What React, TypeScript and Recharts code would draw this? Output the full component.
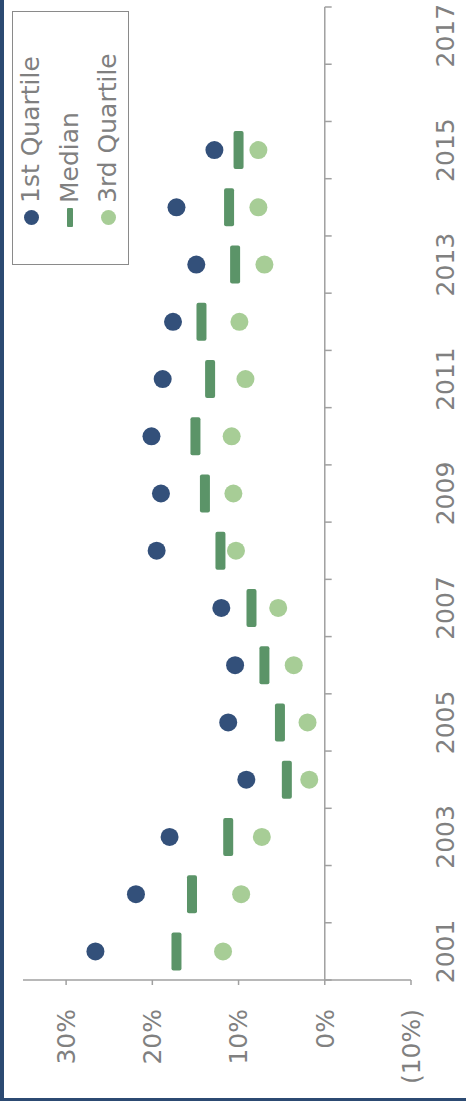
import { ScatterChart, Scatter, XAxis, YAxis, ReferenceLine, Legend } from 'recharts'

// Return quartiles by year, in percent
const years = [2001, 2002, 2003, 2004, 2005, 2006, 2007, 2008, 2009, 2010, 2011, 2012, 2013, 2014, 2015]
const firstQuartile = [26.6, 21.9, 18.0, 9.1, 11.2, 10.4, 12.0, 19.5, 19.0, 20.1, 18.8, 17.6, 14.9, 17.2, 12.8]
const median = [17.2, 15.4, 11.2, 4.4, 5.2, 7.0, 8.5, 12.1, 13.9, 15.0, 13.3, 14.3, 10.4, 11.1, 10.0]
const thirdQuartile = [11.8, 9.7, 7.3, 1.8, 2.0, 3.6, 5.4, 10.3, 10.6, 10.8, 9.2, 9.9, 7.0, 7.7, 7.7]

const yearTicks = [2001, 2003, 2005, 2007, 2009, 2011, 2013, 2015, 2017]
const yearBounds = [2000.5, 2001.5, 2002.5, 2003.5, 2004.5, 2005.5, 2006.5, 2007.5, 2008.5, 2009.5, 2010.5, 2011.5, 2012.5, 2013.5, 2014.5, 2015.5, 2016.5, 2017.5]
const valueTicks = [-10, 0, 10, 20, 30]

const DARK_BLUE = '#33507a'
const GREEN = '#5b9468'
const LIGHT_GREEN = '#a7cd96'
const GREY = '#808080'
const AXIS = '#a0a0a0'
const FONT = '"DejaVu Sans", Verdana, sans-serif'

const toRows = (vals: number[]) => years.map((year, i) => ({ year, value: vals[i] }))

const Dot = (color: string) => (p: any) => <circle cx={p.cx} cy={p.cy} r={9} fill={color} />
const Dash = (p: any) => <rect x={p.cx - 19} y={p.cy - 5} width={38} height={10} rx={2} fill={GREEN} />

const pct = (v: number) => (v < 0 ? `(${Math.abs(v)}%)` : `${v}%`)

const YearTick = ({ x, y, payload }: any) => (
  <text x={x} y={y + 34} dy="0.35em" textAnchor="middle" fill={GREY} fontSize={25} fontFamily={FONT}>
    {payload.value}
  </text>
)

const legendItems = [
  { name: '1st Quartile', kind: 'dot', color: DARK_BLUE },
  { name: 'Median', kind: 'dash', color: GREEN },
  { name: '3rd Quartile', kind: 'dot', color: LIGHT_GREEN },
]

const LegendBox = () => (
  <div
    style={{
      position: 'relative',
      boxSizing: 'border-box',
      width: 254,
      height: 117,
      border: '1.5px solid #8a8a8a',
      background: '#fff',
      fontFamily: FONT,
      fontSize: 25,
      color: GREY,
    }}
  >
    {legendItems.map((item, i) => {
      const cy = 18 + i * 38.5
      return (
        <div key={item.name}>
          {item.kind === 'dot' ? (
            <span
              style={{ position: 'absolute', left: 39, top: cy - 7.5, width: 15, height: 15, borderRadius: '50%', background: item.color }}
            />
          ) : (
            <span
              style={{ position: 'absolute', left: 37, top: cy - 3, width: 19, height: 6, borderRadius: 1, background: item.color }}
            />
          )}
          <span style={{ position: 'absolute', left: 61, top: cy - 15, lineHeight: '30px', whiteSpace: 'nowrap' }}>
            {item.name}
          </span>
        </div>
      )
    })}
  </div>
)

const App = () => {
  return (
    <div style={{ position: 'fixed', left: 0, top: 0, width: 466, height: 1109, background: '#fff', overflow: 'hidden' }}>
      {/* frame edges */}
      <div style={{ position: 'absolute', left: 0, top: 0, width: 4, height: 1101, background: '#2c4a72' }} />
      <div style={{ position: 'absolute', left: 0, top: 1098, width: 466, height: 3, background: '#2c4a72' }} />

      {/* chart is drawn landscape, then turned a quarter counter-clockwise */}
      <div
        style={{
          position: 'absolute',
          left: 0,
          top: 0,
          width: 1109,
          height: 466,
          transformOrigin: '0 0',
          transform: 'translateY(1109px) rotate(-90deg)',
        }}
      >
        <ScatterChart width={1109} height={466} margin={{ top: 23, right: 7, bottom: 0, left: 0 }}>
          <XAxis
            type="number"
            dataKey="year"
            domain={[2000.5, 2017.5]}
            ticks={yearTicks}
            interval={0}
            axisLine={false}
            tickLine={false}
            tickSize={0}
            tickMargin={0}
            height={55}
            tick={<YearTick />}
          />
          <YAxis
            type="number"
            dataKey="value"
            domain={[-10, 35]}
            ticks={valueTicks}
            interval={0}
            width={129}
            tickFormatter={pct}
            axisLine={{ stroke: AXIS, strokeWidth: 1.5 }}
            tickLine={{ stroke: AXIS, strokeWidth: 1.5 }}
            tickSize={5}
            tickMargin={24}
            tick={{ fill: GREY, fontSize: 25, fontFamily: FONT }}
          />
          <ReferenceLine y={0} stroke={AXIS} strokeWidth={1.5} />
          {yearBounds.map((b) => (
            <ReferenceLine
              key={b}
              segment={[{ x: b, y: 0 }, { x: b, y: -0.8 }]}
              stroke={AXIS}
              strokeWidth={1.5}
            />
          ))}
          <Legend
            layout="vertical"
            align="center"
            verticalAlign="middle"
            wrapperStyle={{ left: 844, top: 12, width: 254, height: 117 }}
            content={<LegendBox />}
          />
          <Scatter name="1st Quartile" data={toRows(firstQuartile)} shape={Dot(DARK_BLUE)} isAnimationActive={false} />
          <Scatter name="Median" data={toRows(median)} shape={Dash} isAnimationActive={false} />
          <Scatter name="3rd Quartile" data={toRows(thirdQuartile)} shape={Dot(LIGHT_GREEN)} isAnimationActive={false} />
        </ScatterChart>
      </div>
    </div>
  )
}

export default App
